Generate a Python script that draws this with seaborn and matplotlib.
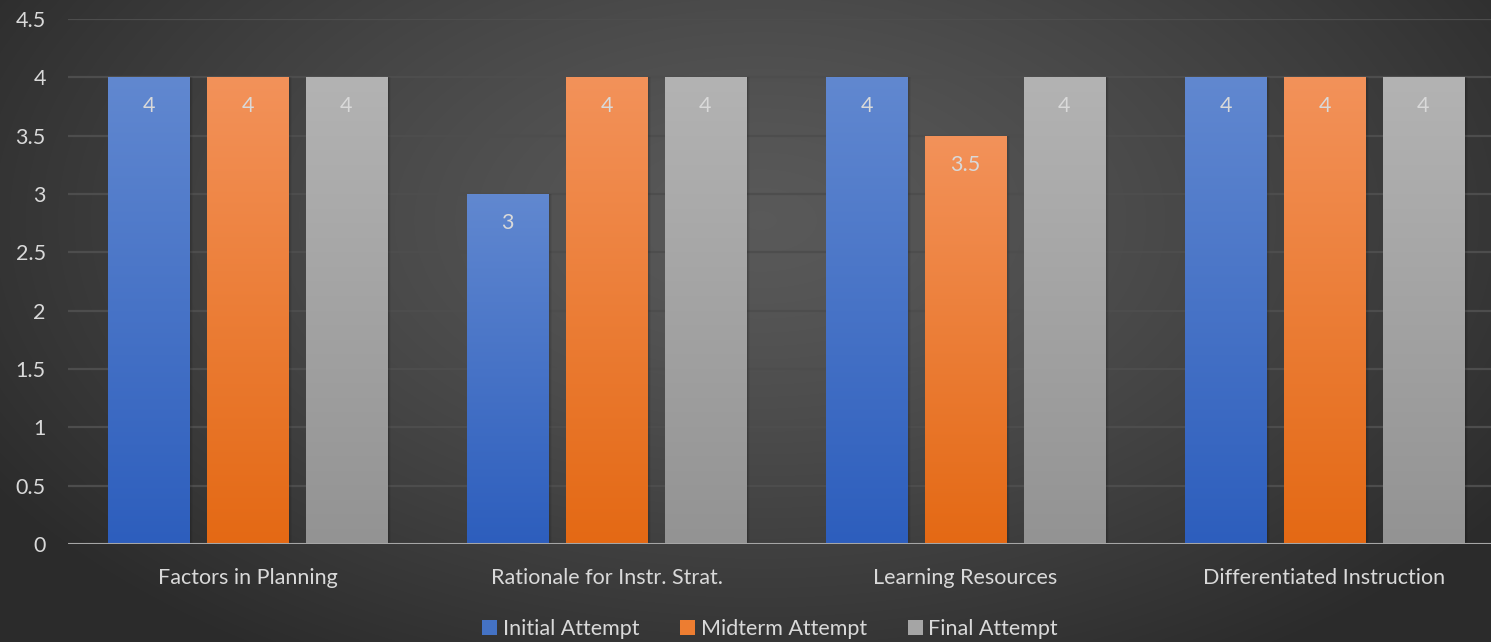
import numpy as np
import pandas as pd
import matplotlib
matplotlib.use("Agg")
import matplotlib.pyplot as plt
import matplotlib.colors as mcolors
from matplotlib.patches import Patch
import seaborn as sns

categories = ["Factors in Planning", "Rationale for Instr. Strat.",
              "Learning Resources", "Differentiated Instruction"]
series_names = ["Initial Attempt", "Midterm Attempt", "Final Attempt"]
initial = [4, 3, 4, 4]
midterm = [4, 4, 3.5, 4]
final = [4, 4, 4, 4]
y_ticks = [0, 0.5, 1, 1.5, 2, 2.5, 3, 3.5, 4, 4.5]

# top / bottom colours of each series' vertical gradient
grad_top = ["#6188d0", "#f3925a", "#b3b3b3"]
grad_bot = ["#2d5ebd", "#e46914", "#939393"]
legend_colors = ["#4472c4", "#ed7d31", "#a5a5a5"]
text_color = "#d9d9d9"

df = pd.DataFrame({
    "category": categories * 3,
    "series": sum([[s] * len(categories) for s in series_names], []),
    "value": initial + midterm + final,
})

sns.set_theme(style="dark")
plt.rcParams["font.family"] = ["Lato", "DejaVu Sans"]

W, H = 1491, 642
fig = plt.figure(figsize=(W / 100, H / 100), dpi=100)

# radial dark background
bg = fig.add_axes([0, 0, 1, 1], zorder=-10)
yy, xx = np.mgrid[0:H, 0:W]
r = np.sqrt(((xx - 760) / 900.0) ** 2 + ((yy - 220) / 520.0) ** 2)
r = np.clip(r, 0, 1)
shade = 0.35 - 0.18 * r ** 1.3
bg.imshow(np.dstack([shade] * 3), extent=[0, W, H, 0], aspect="auto")
bg.set_xlim(0, W)
bg.set_ylim(H, 0)
bg.axis("off")

left_px, right_px, top_px, bot_px = 68, 1504, 19, 544
ax = fig.add_axes([left_px / W, 1 - bot_px / H,
                   (right_px - left_px) / W, (bot_px - top_px) / H])
ax.patch.set_alpha(0)

sns.barplot(data=df, x="category", y="value", hue="series",
            hue_order=series_names, order=categories,
            width=0.827, gap=0.18, palette=legend_colors,
            linewidth=0, edgecolor="none",
            legend=False, ax=ax, zorder=3)

# gradient fill + soft shadow for each bar
for i, cont in enumerate(ax.containers):
    cmap = mcolors.LinearSegmentedColormap.from_list(
        f"g{i}", [grad_bot[i], grad_top[i]])
    for p in cont.patches:
        x, w, h = p.get_x(), p.get_width(), p.get_height()
        for k, a in enumerate([0.10, 0.07, 0.04]):
            ax.add_patch(plt.Rectangle((x + w + 0.002 * k, 0), 0.006, h,
                                       color="black", alpha=a, zorder=2,
                                       lw=0))
        grad = np.linspace(0, 1, 256).reshape(-1, 1)
        im = ax.imshow(grad, cmap=cmap, origin="lower", aspect="auto",
                       extent=[x, x + w, 0, h], zorder=3.5)
        im.set_clip_path(p)
    ax.bar_label(cont, labels=[f"{v:g}" for v in cont.datavalues],
                 label_type="edge", padding=-28, color=text_color,
                 fontsize=15.5, zorder=5)

ax.set_xlim(-0.5, len(categories) - 0.5)
ax.set_ylim(0, 4.5)
ax.set_yticks(y_ticks)
ax.set_yticklabels([f"{t:g}" for t in y_ticks])
ax.grid(axis="y", color="#4d4d4d", lw=1.6, zorder=0)
ax.grid(axis="x", visible=False)
ax.set_axisbelow(True)
for s in ax.spines.values():
    s.set_visible(False)
ax.axhline(0, color="#a6a6a6", lw=2.2, zorder=6)
ax.tick_params(axis="y", length=0, pad=16, labelsize=15.5,
               labelcolor=text_color)
ax.tick_params(axis="x", length=0, pad=17, labelsize=15.5,
               labelcolor=text_color)
ax.set_xlabel("")
ax.set_ylabel("")

handles = [Patch(facecolor=c, edgecolor="none") for c in legend_colors]
fig.legend(handles, series_names, loc="center", ncol=3,
           bbox_to_anchor=(770 / W, 1 - 629 / H), frameon=False,
           fontsize=15.5, labelcolor=text_color, handlelength=0.7,
           handleheight=0.7, handletextpad=0.25, columnspacing=1.9)

fig.savefig("out.png", dpi=100)
